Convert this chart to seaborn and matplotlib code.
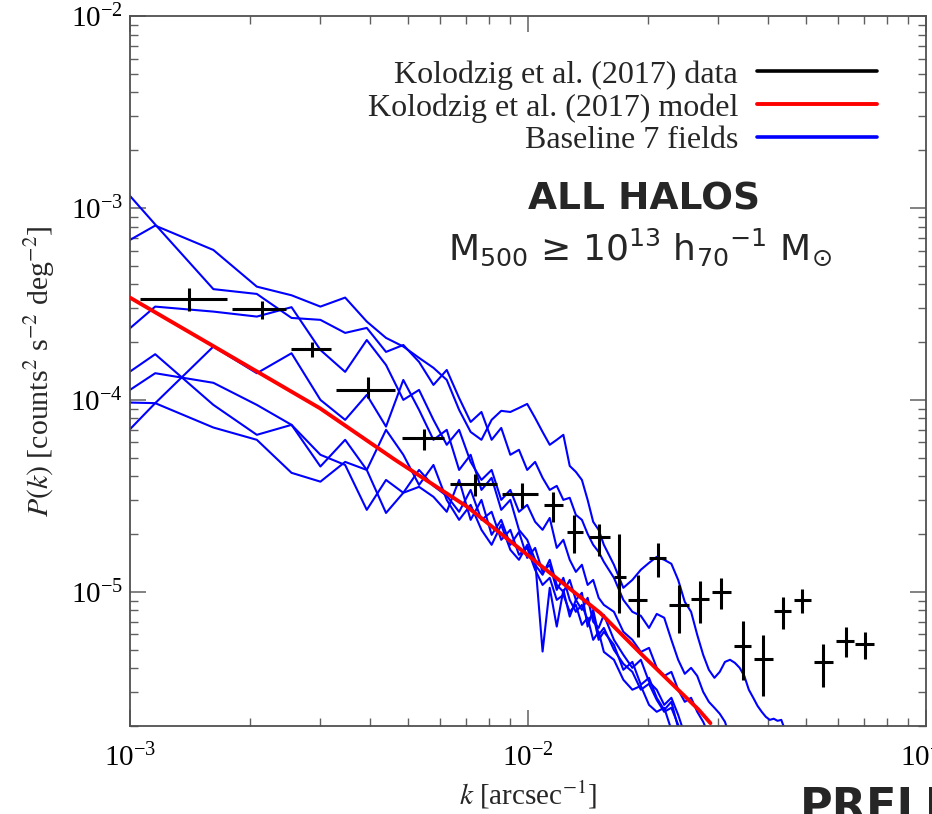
import numpy as np
import pandas as pd
import matplotlib
matplotlib.use("Agg")
import matplotlib.pyplot as plt
from matplotlib.lines import Line2D
from matplotlib.ticker import LogLocator, LogFormatterMathtext, NullFormatter
import seaborn as sns

# ---------------------------------------------------------------------------
# Power spectrum of the unresolved X-ray background fluctuations
# ---------------------------------------------------------------------------

# Kolodzig et al. (2017) measurements: bin centre, bin edges [arcsec^-1]
data_k = [1.41e-3, 2.14e-3, 2.87e-3, 3.97e-3, 5.49e-3, 7.37e-3, 9.66e-3, 1.156e-2,
          1.302e-2, 1.511e-2, 1.697e-2, 1.891e-2, 2.123e-2, 2.398e-2, 2.712e-2,
          3.06e-2, 3.47e-2, 3.90e-2, 4.37e-2, 4.89e-2, 5.52e-2, 6.28e-2, 7.02e-2]
data_k_lo = [1.06e-3, 1.80e-3, 2.54e-3, 3.30e-3, 4.82e-3, 6.38e-3, 8.60e-3, 1.099e-2,
             1.253e-2, 1.42e-2, 1.642e-2, 1.787e-2, 2.018e-2, 2.266e-2, 2.574e-2,
             2.90e-2, 3.30e-2, 3.69e-2, 4.16e-2, 4.66e-2, 5.23e-2, 5.93e-2, 6.65e-2]
data_k_hi = [1.75e-3, 2.46e-3, 3.20e-3, 4.62e-3, 6.16e-3, 8.36e-3, 1.057e-2, 1.222e-2,
             1.375e-2, 1.61e-2, 1.767e-2, 1.991e-2, 2.227e-2, 2.534e-2, 2.846e-2,
             3.245e-2, 3.64e-2, 4.115e-2, 4.57e-2, 5.15e-2, 5.83e-2, 6.59e-2, 7.40e-2]
# P(k) with its lower / upper 1-sigma bounds [counts^2 s^-2 deg^-2]
data_p = [3.37e-4, 2.97e-4, 1.84e-4, 1.13e-4, 6.32e-5, 3.64e-5, 3.23e-5, 2.84e-5,
          2.05e-5, 1.93e-5, 1.19e-5, 9.08e-6, 1.50e-5, 8.52e-6, 9.19e-6,
          1.004e-5, 5.25e-6, 4.46e-6, 7.96e-6, 9.08e-6, 4.30e-6, 5.56e-6, 5.36e-6]
data_p_lo = [2.91e-4, 2.64e-4, 1.67e-4, 1.02e-4, 5.49e-5, 3.14e-5, 2.73e-5, 2.32e-5,
             1.59e-5, 1.54e-5, 7.74e-6, 5.85e-6, 1.20e-5, 6.09e-6, 6.87e-6,
             8.13e-6, 3.48e-6, 2.87e-6, 6.39e-6, 7.80e-6, 3.21e-6, 4.57e-6, 4.48e-6]
data_p_hi = [3.83e-4, 3.28e-4, 2.01e-4, 1.32e-4, 7.06e-5, 4.12e-5, 3.68e-5, 3.33e-5,
             2.52e-5, 2.26e-5, 2.00e-5, 1.226e-5, 1.79e-5, 1.088e-5, 1.141e-5,
             1.179e-5, 7.06e-6, 5.97e-6, 9.38e-6, 1.033e-5, 5.36e-6, 6.52e-6, 6.21e-6]

# Kolodzig et al. (2017) model curve
model_k = [1.0e-3, 1.617e-3, 3.00e-3, 4.637e-3, 7.024e-3, 1.033e-2, 1.520e-2,
           1.916e-2, 2.685e-2, 2.873e-2]
model_p = [3.41e-4, 1.91e-4, 9.05e-5, 4.87e-5, 2.78e-5, 1.468e-5, 7.75e-6,
           4.79e-6, 2.43e-6, 2.07e-6]

# Simulated fields: common k bins [1e-3 arcsec^-1]
k_bins = [0.6944, 1.157, 1.620, 2.083, 2.546, 3.009, 3.472, 3.935, 4.398, 4.861,
          5.324, 5.787, 6.250, 6.713, 7.176, 7.639, 8.102, 8.565, 9.028, 9.491,
          9.954, 10.42, 10.88, 11.34, 11.81, 12.27, 12.73, 13.19, 13.66, 14.12,
          14.58, 15.05, 15.51, 16.44, 17.36, 18.29, 19.21, 20.14, 21.06, 21.99,
          22.92, 23.84, 24.77, 25.69, 26.62, 27.55, 28.47, 29.40, 30.32, 31.25,
          32.18, 33.10, 34.03, 34.95, 35.88, 36.81, 37.73, 38.66, 39.58, 40.51,
          41.44, 42.36, 43.29, 44.21]

# log10 P(k) of each of the 7 baseline fields
field_1 = [-3.353, -3.092, -3.219, -3.410, -3.455, -3.514, -3.467, -3.592, -3.677, -3.722,
           -3.781, -3.833, -3.896, -4.052, -4.167, -4.208, -4.104, -4.057, -4.063, -4.042,
           -4.021, -4.094, -4.167, -4.234, -4.208, -4.182, -4.344, -4.375, -4.417, -4.521,
           -4.635, -4.677, -4.755, -4.859, -4.979, -4.938, -4.885, -4.849, -4.818, -4.833,
           -4.854, -4.938, -5.052, -5.104, -5.224, -5.328, -5.406, -5.448, -5.417, -5.365,
           -5.354, -5.370, -5.396, -5.438, -5.510, -5.552, -5.594, -5.625, -5.651, -5.667,
           -5.661, -5.672, -5.667, -5.719]
field_2 = [-2.566, -3.086, -3.423, -3.448, -3.573, -3.583, -3.651, -3.625, -3.750, -3.714,
           -3.802, -3.922, -3.844, -3.990, -4.115, -4.063, -4.208, -4.146, -4.286, -4.260,
           -4.365, -4.323, -4.406, -4.469, -4.448, -4.521, -4.510, -4.599, -4.625, -4.698,
           -4.755, -4.792, -4.844, -4.927, -5.042, -5.104, -5.125, -5.188, -5.115, -5.135,
           -5.250, -5.354, -5.427, -5.396, -5.438, -5.521, -5.573, -5.604, -5.635, -5.677,
           -5.760]
field_3 = [-3.908, -3.514, -3.540, -3.566, -3.517, -3.740, -3.854, -3.688, -3.818, -4.000,
           -3.948, -4.104, -4.234, -4.156, -4.323, -4.417, -4.365, -4.521, -4.469, -4.583,
           -4.547, -4.635, -4.677, -4.615, -4.771, -4.729, -4.833, -4.896, -4.859, -4.964,
           -4.938, -5.031, -5.068, -5.104, -5.208, -5.250, -5.313, -5.292, -5.396, -5.438,
           -5.417, -5.510, -5.573, -5.552, -5.625, -5.677, -5.745]
field_4 = [-4.079, -3.762, -4.026, -4.182, -4.130, -4.347, -4.208, -4.365, -4.156, -4.286,
           -4.443, -4.339, -4.521, -4.625, -4.547, -4.677, -4.755, -4.651, -4.781, -4.833,
           -4.755, -4.859, -4.911, -4.833, -4.964, -5.000, -4.938, -5.042, -5.094, -5.031,
           -5.156, -5.188, -5.120, -5.250, -5.328, -5.396, -5.354, -5.469, -5.510, -5.589,
           -5.552, -5.641, -5.745]
field_5 = [-4.165, -3.861, -3.911, -4.026, -4.130, -4.286, -4.339, -4.573, -4.417, -4.484,
           -4.365, -4.448, -4.500, -4.583, -4.469, -4.625, -4.583, -4.729, -4.677, -4.807,
           -4.771, -4.885, -4.964, -4.927, -5.042, -5.016, -5.104, -5.068, -5.172, -5.135,
           -5.250, -5.208, -5.313, -5.354, -5.458, -5.510, -5.490, -5.589, -5.625, -5.604,
           -5.719]
field_6 = [-4.006, -4.017, -4.144, -4.208, -4.380, -4.426, -4.323, -4.365, -4.589, -4.484,
           -4.453, -4.505, -4.583, -4.417, -4.625, -4.521, -4.703, -4.625, -4.755, -4.688,
           -4.823, -4.771, -4.896, -4.859, -4.990, -4.927, -5.042, -5.104, -5.068, -5.146,
           -5.120, -5.250, -5.208, -5.276, -5.406, -5.365, -5.484, -5.448, -5.552, -5.615,
           -5.573, -5.708]
field_7 = [-4.492, -4.017, -3.722, -3.861, -3.757, -4.000, -4.104, -3.974, -4.139, -3.896,
           -4.052, -4.208, -4.156, -4.365, -4.286, -4.469, -4.406, -4.573, -4.521, -4.677,
           -4.729, -4.833, -5.311, -4.979, -5.181, -4.990, -5.129, -5.042, -5.005, -5.181,
           -5.094, -5.224, -5.188, -5.302, -5.375, -5.417, -5.510, -5.479, -5.563, -5.625,
           -5.604, -5.693, -5.760]

legend_labels = ["Kolodzig et al. (2017) data", "Kolodzig et al. (2017) model",
                 "Baseline 7 fields"]

# ---------------------------------------------------------------------------
sns.set_style("ticks")
plt.rcParams.update({
    "font.family": ["Liberation Serif", "DejaVu Serif"],
    "mathtext.fontset": "stix",
    "xtick.direction": "in", "ytick.direction": "in",
    "xtick.top": True, "ytick.right": True,
    "axes.edgecolor": "#505050", "axes.linewidth": 1.3,
    "xtick.color": "#606060", "ytick.color": "#606060",
    "xtick.labelcolor": "black", "ytick.labelcolor": "black",
})

W, H = 932, 814
fig = plt.figure(figsize=(W / 100, H / 100), dpi=100)
ax = fig.add_axes([130 / W, 1 - 726 / H, (926 - 130) / W, (726 - 16) / H])
ax.set_xscale("log")
ax.set_yscale("log")

# simulated fields
fields = [field_1, field_2, field_3, field_4, field_5, field_6, field_7]
frames = []
for i, logp in enumerate(fields):
    n = len(logp)
    frames.append(pd.DataFrame({
        "k": np.array(k_bins[:n]) * 1e-3,
        "P": 10.0 ** np.array(logp),
        "field": f"field {i + 1}",
    }))
df_fields = pd.concat(frames, ignore_index=True)
sns.lineplot(data=df_fields, x="k", y="P", units="field", estimator=None,
             sort=False, color="#0000ff", lw=1.5, legend=False, ax=ax, zorder=2)

# model
df_model = pd.DataFrame({"k": model_k, "P": model_p})
sns.lineplot(data=df_model, x="k", y="P", color="#ff0000", lw=2.8,
             estimator=None, sort=False, legend=False, ax=ax, zorder=3)

# measurements
k = np.array(data_k)
p = np.array(data_p)
ax.errorbar(k, p,
            xerr=[k - np.array(data_k_lo), np.array(data_k_hi) - k],
            yerr=[p - np.array(data_p_lo), np.array(data_p_hi) - p],
            fmt="none", ecolor="black", elinewidth=2.2, capsize=0, zorder=4)

ax.set_xlim(1e-3, 1e-1)
ax.set_ylim(2.0e-6, 1e-2)

for axis in (ax.xaxis, ax.yaxis):
    axis.set_major_locator(LogLocator(base=10, numticks=10))
    axis.set_minor_locator(LogLocator(base=10, subs=np.arange(2, 10), numticks=20))
    axis.set_major_formatter(LogFormatterMathtext())
    axis.set_minor_formatter(NullFormatter())
ax.tick_params(which="major", length=11.5, width=1.1, labelsize=21)
ax.tick_params(axis="x", which="major", pad=13)
ax.tick_params(axis="y", which="major", pad=5)
ax.tick_params(which="minor", length=6, width=1.0)

ax.set_xlabel(r"$k$ [arcsec$^{-1}$]", fontsize=21)
ax.set_ylabel(r"$P(k)$ [counts$^{2}$ s$^{-2}$ deg$^{-2}$]", fontsize=21.5)
ax.xaxis.set_label_coords(0.5, (726 - 795) / 710)
ax.xaxis.label.set_verticalalignment("center")
ax.yaxis.set_label_coords((40 - 130) / 796, 0.5)
ax.yaxis.label.set_verticalalignment("center")
ax.yaxis.label.set_horizontalalignment("center")

handles = [Line2D([], [], color="black", lw=2.6),
           Line2D([], [], color="#ff0000", lw=2.8),
           Line2D([], [], color="#0000ff", lw=2.6)]
ax.legend(handles, legend_labels, loc="upper right",
          bbox_to_anchor=(877 / W, 1 - 60 / H), bbox_transform=fig.transFigure,
          frameon=False, markerfirst=False, handlelength=3.75, handletextpad=0.6,
          labelspacing=0.11, borderpad=0, borderaxespad=0, fontsize=23)

fig.text(644 / W, 1 - 199 / H, "ALL HALOS", ha="center", va="center",
         fontsize=27, fontweight="bold", family="DejaVu Sans")
fig.text(640 / W, 1 - 247 / H,
         r"M$_{500}$ ≥ 10$^{13}$ h$_{70}$$^{-1}$ M$_{\odot}$",
         ha="center", va="center", fontsize=26, family="DejaVu Sans",
         math_fontfamily="dejavusans")
fig.text(800 / W, 1 - 786 / H, "PRELIMINARY", ha="left", va="top",
         fontsize=32, fontweight="bold", family="DejaVu Sans")

fig.savefig("out.png", dpi=100)
